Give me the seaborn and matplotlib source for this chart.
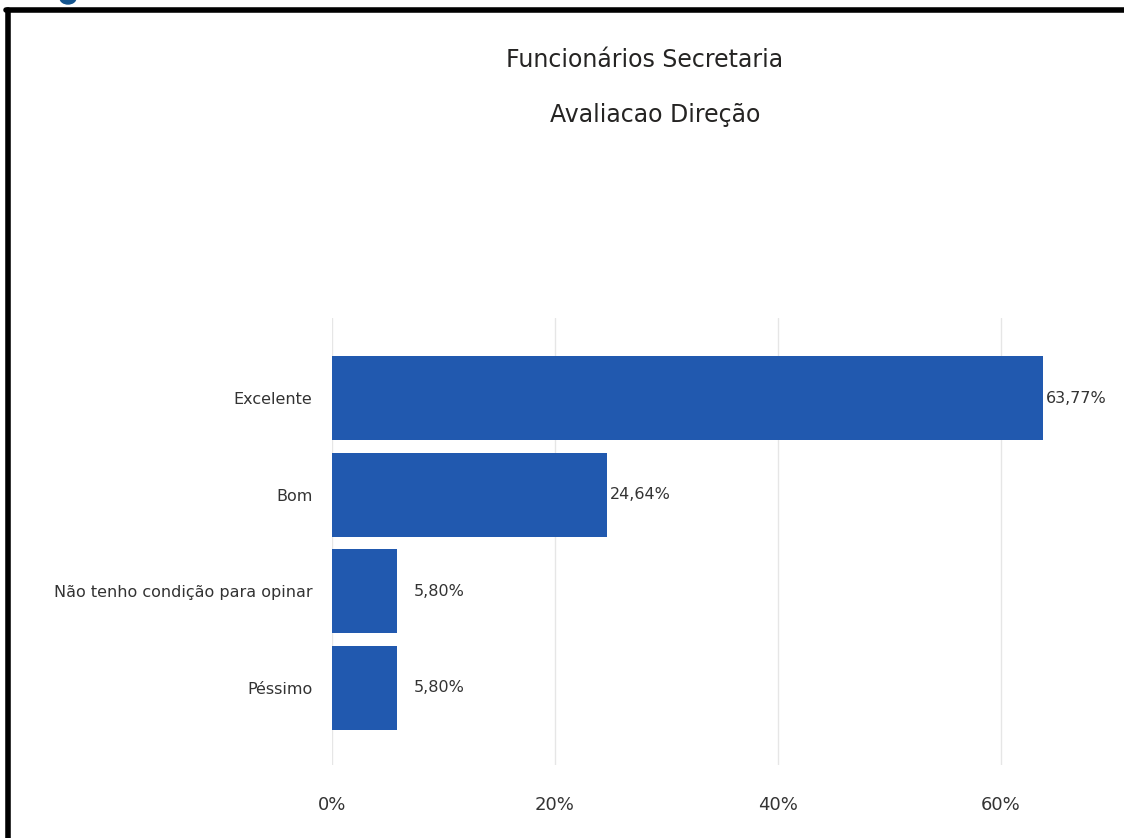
import matplotlib
matplotlib.use("Agg")
import matplotlib.pyplot as plt
import seaborn as sns
import pandas as pd
from matplotlib.lines import Line2D
from matplotlib.patches import Ellipse

title_line1 = "Funcionários Secretaria"
title_line2 = "Avaliacao Direção"
categories = ["Excelente", "Bom", "Não tenho condição para opinar", "Péssimo"]
values = [63.77, 24.64, 5.80, 5.80]
value_labels = ["63,77%", "24,64%", "5,80%", "5,80%"]
x_ticks = [0, 20, 40, 60]
x_tick_labels = ["0%", "20%", "40%", "60%"]

sns.set_theme(style="white")
plt.rcParams['font.family'] = ['DejaVu Sans']

df = pd.DataFrame({"categoria": categories, "valor": values})

fig = plt.figure(figsize=(11.24, 8.38), dpi=100)
ax = fig.add_axes([332/1124, 1 - 765/838, (1110-332)/1124, (765-318)/838])

sns.barplot(data=df, y="categoria", x="valor", order=categories, color="#2159AF",
            saturation=1, width=0.87, ax=ax, zorder=3, linewidth=0)

ax.set_xlim(0, 69.8)
ax.set_ylim(3.8, -0.83)
ax.set_xticks(x_ticks)
ax.set_xticklabels(x_tick_labels, fontsize=13, color="#333333")
ax.tick_params(axis="x", length=0, pad=22)
ax.tick_params(axis="y", length=0, pad=14, labelsize=11.5, labelcolor="#333333")
ax.set_xlabel("")
ax.set_ylabel("")
ax.grid(axis="x", color="#E6E6E6", linewidth=1, zorder=0)
ax.grid(axis="y", visible=False)
for s in ax.spines.values():
    s.set_visible(False)

for i, (v, lab) in enumerate(zip(values, value_labels)):
    x = max(v + 0.25, 7.3)
    ax.text(x, i, lab, va="center", ha="left", fontsize=11.5, color="#333333")

fig.text(645/1124, 1 - 60/838, title_line1, ha="center", va="center", fontsize=17, color="#252423")
fig.text(655/1124, 1 - 115/838, title_line2, ha="center", va="center", fontsize=17, color="#252423")

# frame (left and top black border)
fig.add_artist(Line2D([8/1124, 8/1124], [0, 1 - 10/838], transform=fig.transFigure, color="black", linewidth=4))
fig.add_artist(Line2D([6/1124, 1], [1 - 10/838, 1 - 10/838], transform=fig.transFigure, color="black", linewidth=4))
# partial logo fragment at top-left
fig.add_artist(Ellipse((68/1124, 1 + 2/838), 16/1124, 12/838, transform=fig.transFigure, color="#14558F"))

fig.savefig("out.png", dpi=100)
